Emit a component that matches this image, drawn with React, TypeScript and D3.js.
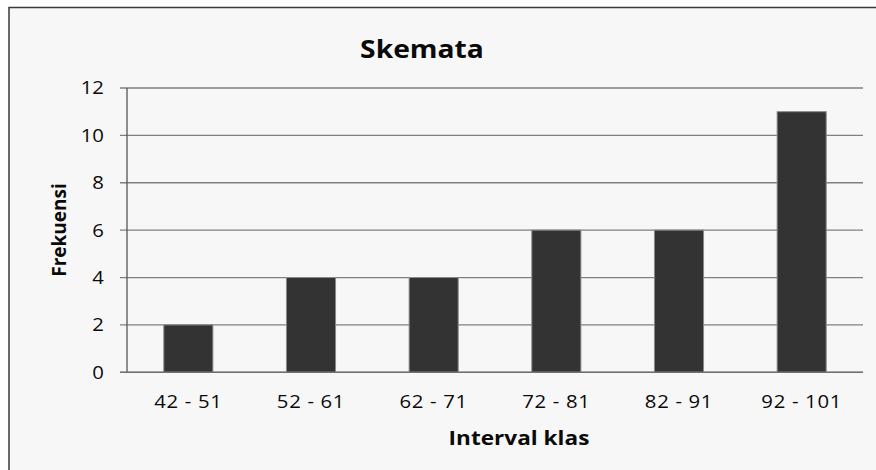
import React from "react";
import * as d3 from "d3";

const categories = ["42 - 51", "52 - 61", "62 - 71", "72 - 81", "82 - 91", "92 - 101"];
const frequencies = [2, 4, 4, 6, 6, 11];
const yTicks = [0, 2, 4, 6, 8, 10, 12];
const chartTitle = "Skemata";
const xTitle = "Interval klas";
const yTitle = "Frekuensi";

const W = 876;
const H = 470;
const M = { left: 127, right: 863, top: 88, bottom: 372.3 };
const FONT = "'Open Sans', 'DejaVu Sans', sans-serif";
const SX = 1.13;

function HText(props: { x: number; y: number; anchor: "start" | "middle" | "end"; size: number; bold?: boolean; dy?: string; ls?: number; children: React.ReactNode }) {
  return (
    <text
      transform={`translate(${props.x},${props.y}) scale(${SX},1)`}
      dy={props.dy}
      textAnchor={props.anchor}
      fontFamily={FONT}
      fontWeight={props.bold ? "bold" : "normal"}
      fontSize={props.size}
      letterSpacing={props.ls ?? 0}
      fill="#0a0a0a"
    >
      {props.children}
    </text>
  );
}

export default function App() {
  const x = d3.scaleBand<string>().domain(categories).range([M.left, M.right]).paddingInner(0.6).paddingOuter(0.3);
  const y = d3.scaleLinear().domain([0, 12]).range([M.bottom, M.top]);

  return (
    <svg width={W} height={H} style={{ position: "absolute", left: 0, top: 0, background: "#ffffff" }}>
      <rect x={9} y={7.5} width={W + 20} height={H + 20} fill="#f7f7f7" stroke="#3a3a3a" strokeWidth={1.5} />
      <HText x={422} y={58} anchor="middle" size={25} bold>
        {chartTitle}
      </HText>
      {yTicks.map((t) => (
        <g key={t}>
          <line x1={120} x2={M.right} y1={y(t)} y2={y(t)} stroke="#808080" strokeWidth={1.3} />
          <HText x={104} y={y(t)} dy="0.36em" anchor="end" size={18}>
            {t}
          </HText>
        </g>
      ))}
      <line x1={M.left} x2={M.left} y1={M.top} y2={M.bottom} stroke="#555" strokeWidth={1.3} />
      {categories.map((c, i) => (
        <g key={c}>
          <rect
            x={x(c)!}
            y={y(frequencies[i])}
            width={x.bandwidth()}
            height={y(0) - y(frequencies[i])}
            fill="#333333"
            stroke="#8a8a8a"
            strokeWidth={1}
          />
          <HText x={x(c)! + x.bandwidth() / 2} y={407.5} anchor="middle" size={18} ls={0.6}>
            {c}
          </HText>
        </g>
      ))}
      <line x1={120} x2={M.right} y1={y(0)} y2={y(0)} stroke="#707070" strokeWidth={1.5} />
      <HText x={519} y={445} anchor="middle" size={20} bold>
        {xTitle}
      </HText>
      <text
        transform={`translate(66,230) rotate(-90)`}
        textAnchor="middle"
        fontFamily={FONT}
        fontWeight="bold"
        fontSize={19}
        fill="#0a0a0a"
      >
        {yTitle}
      </text>
    </svg>
  );
}
